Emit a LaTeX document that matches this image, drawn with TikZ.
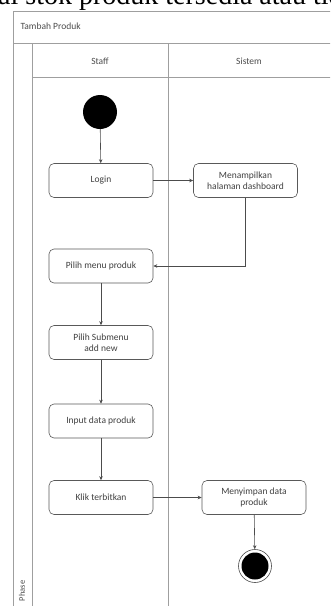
\documentclass[tikz,border=0pt]{standalone}
\usepackage{fontspec}
\setmainfont{Carlito}
\newfontfamily\bodyserif{Liberation Serif}
\usetikzlibrary{arrows.meta}
\begin{document}
\begin{tikzpicture}[x=1pt,y=-1pt,
  lane/.style={draw=gray!75, line width=0.7pt},
  act/.style={draw=gray!70!black, line width=0.6pt, rounded corners=5pt,
    minimum width=104pt, minimum height=34pt, align=center,
    font=\fontsize{9.5}{11.5}\selectfont, text=black!75},
  flow/.style={draw=black!70, line width=0.6pt, -{Stealth[length=4pt,width=3.5pt]}},
  hdr/.style={font=\fontsize{9.5}{11}\selectfont, text=black!70}]
\useasboundingbox (0,0) rectangle (330,606);
\clip (0,0) rectangle (330,606);
% running text of the page above the diagram
\node[anchor=base west, inner sep=0pt, font=\bodyserif\fontsize{28}{30}\selectfont]
  (pagetext) at (-2,4.5) {ai stok produk tersedia atau tidak};
% swimlane frame
\draw[lane] (340,11) -- (13,11) -- (13,610);
\draw[lane] (13,43) -- (340,43);
\draw[lane] (32,43) -- (32,610);
\draw[lane] (168,43) -- (168,610);
\draw[lane] (32,77) -- (340,77);
\node[hdr, anchor=west] (title) at (17,26) {Tambah Produk};
\node[hdr] (staff) at (100,61) {Staff};
\node[hdr] (sistem) at (249,61) {Sistem};
\node[hdr, rotate=90, font=\fontsize{8.5}{10}\selectfont] (phase) at (22,591) {Phase};
% activities
\node[circle, fill=black, minimum size=34pt, inner sep=0pt] (start) at (100,112) {};
\node[act] (login) at (101,180.5) {Login};
\node[act] (dash) at (245.5,180.5) {Menampilkan\\halaman dashboard};
\node[act] (menu) at (101,266) {Pilih menu produk};
\node[act] (sub) at (101,342.5) {Pilih Submenu\\add new};
\node[act] (input) at (101,421) {Input data produk};
\node[act] (klik) at (101,497.5) {Klik terbitkan};
\node[act] (simpan) at (254,497.5) {Menyimpan data\\produk};
\node[circle, draw=black!70, line width=0.6pt, minimum size=33pt, inner sep=0pt] (end) at (255,566) {};
\node[circle, fill=black, minimum size=27pt, inner sep=0pt] (endin) at (255,566) {};
% control flow
\draw[flow] (start) -- (login);
\draw[flow] (login) -- (dash);
\draw[flow] (dash.south) |- (menu.east);
\draw[flow] (menu) -- (sub);
\draw[flow] (sub) -- (input);
\draw[flow] (input) -- (klik);
\draw[flow] (klik) -- (simpan);
\draw[flow] (simpan) -- (end);
\end{tikzpicture}
\end{document}
